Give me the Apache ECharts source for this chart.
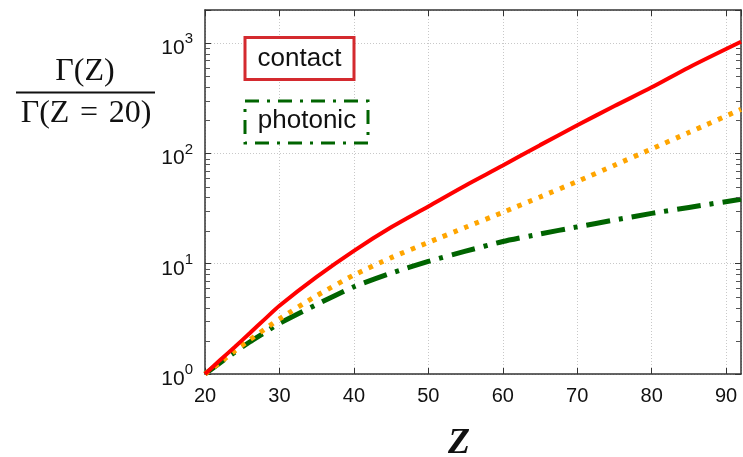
<!DOCTYPE html>
<html>
<head>
<meta charset="utf-8">
<style>html,body{margin:0;padding:0;background:#fff;}#c{width:743px;height:457px;}</style>
<script src="https://cdn.jsdelivr.net/npm/echarts@6/dist/echarts.min.js"></script>
</head>
<body>
<div id="c"></div>
<script>
const zValues = [20, 22, 24, 26, 28, 30, 35, 40, 45, 50, 55, 60, 65, 70, 75, 80, 85, 92];
const contact = [1, 1.33, 1.76, 2.34, 3.13, 4.16, 7.6, 13.1, 21.4, 33.1, 51.3, 77.6, 119, 180, 269, 398, 603, 1030];
const photonic = [1, 1.26, 1.58, 1.95, 2.37, 2.88, 4.27, 6.18, 8.22, 10.5, 13.0, 15.9, 18.6, 21.6, 24.9, 28.6, 32.4, 38.4];
const dotted = [1, 1.27, 1.62, 2.04, 2.54, 3.16, 5.13, 7.9, 11.35, 15.6, 21.4, 29.2, 40.3, 55.7, 78.2, 110, 155, 251];
const xTickLabels = ['20', '30', '40', '50', '60', '70', '80', '90'];
const yTickExponents = ['0', '1', '2', '3'];
const minorTickValues = [2,3,4,5,6,7,8,9,20,30,40,50,60,70,80,90,200,300,400,500,600,700,800,900];
const legendNames = ['contact', 'photonic'];
const xMin = 20, xMax = 92, yMin = 1, yMax = 2000;

const pair = (arr) => zValues.map((z, i) => [z, arr[i]]);
const chart = echarts.init(document.getElementById('c'), null, {renderer: 'canvas'});
const frame = '#333';
const grid = '#c8c8c8';

chart.setOption({
  animation: false,
  backgroundColor: '#fff',
  grid: {left: 205, right: 2, top: 10, bottom: 83, containLabel: false},
  xAxis: [{
    type: 'value', min: xMin, max: xMax, interval: 10,
    axisLine: {show: true, onZero: false, lineStyle: {color: frame, width: 1.5}},
    axisTick: {show: true, inside: true, length: 6, lineStyle: {color: frame}},
    axisLabel: {
      show: true, margin: 12, color: '#111', fontSize: 20, fontFamily: 'Liberation Sans, Arial, sans-serif',
      showMaxLabel: false,
      formatter: (v) => xTickLabels.indexOf(String(v)) >= 0 ? String(v) : ''
    },
    splitLine: {show: true, lineStyle: {color: grid, type: [1, 2], width: 1}}
  }, {
    type: 'value', position: 'top', min: xMin, max: xMax, interval: 10,
    axisLine: {show: true, onZero: false, lineStyle: {color: frame, width: 1.5}},
    axisTick: {show: true, inside: true, length: 6, lineStyle: {color: frame}},
    axisLabel: {show: false}, splitLine: {show: false}
  }],
  yAxis: [{
    type: 'log', logBase: 10, min: yMin, max: yMax,
    axisLine: {show: true, onZero: false, lineStyle: {color: frame, width: 1.5}},
    axisTick: {show: true, inside: true, length: 6, lineStyle: {color: frame}},
    axisLabel: {
      show: true, margin: 12, color: '#111', fontFamily: 'Liberation Sans, Arial, sans-serif',
      formatter: (v) => {
        const e = Math.round(Math.log10(v));
        if (Math.abs(Math.pow(10, e) - v) > 1e-6 * v) return '';
        const s = String(e);
        if (yTickExponents.indexOf(s) < 0) return '';
        return '{b|10}{s|' + s + '}';
      },
      rich: {
        b: {fontSize: 21, fontFamily: 'Liberation Sans, Arial, sans-serif', color: '#111', verticalAlign: 'bottom', padding: [0, 0, -4, 0]},
        s: {fontSize: 15, fontFamily: 'Liberation Sans, Arial, sans-serif', color: '#111', verticalAlign: 'top', padding: [0, 0, 8, 0]}
      }
    },
    splitLine: {show: true, lineStyle: {color: grid, type: [1, 2], width: 1}}
  }, {
    type: 'log', logBase: 10, min: yMin, max: yMax, position: 'right',
    axisLine: {show: true, onZero: false, lineStyle: {color: frame, width: 1.5}},
    axisTick: {show: true, inside: true, length: 6, lineStyle: {color: frame}},
    axisLabel: {show: false}, splitLine: {show: false}
  }],
  series: [
    {
      type: 'custom', name: 'minorTicks', coordinateSystem: 'cartesian2d', xAxisIndex: 0, yAxisIndex: 0,
      silent: true, clip: false, z: 6,
      encode: {x: 0, y: 1},
      data: minorTickValues.map(v => [xMin, v]),
      renderItem: (params, api) => {
        const v = api.value(1);
        const pL = api.coord([xMin, v]);
        const pR = api.coord([xMax, v]);
        const y = Math.round(pL[1]) + 0.5;
        return {type: 'group', children: [
          {type: 'line', shape: {x1: pL[0], y1: y, x2: pL[0] + 5, y2: y}, style: {stroke: '#555', lineWidth: 1}},
          {type: 'line', shape: {x1: pR[0], y1: y, x2: pR[0] - 5, y2: y}, style: {stroke: '#555', lineWidth: 1}}
        ]};
      }
    },
    {
      type: 'line', name: legendNames[1], data: pair(photonic), showSymbol: false, smooth: 0.2,
      lineStyle: {color: '#006400', width: 5, type: [24, 9, 4, 9]}, z: 3
    },
    {
      type: 'line', name: 'dotted', data: pair(dotted), showSymbol: false, smooth: 0.2,
      lineStyle: {color: '#ffa500', width: 5, type: [4.5, 7]}, z: 4
    },
    {
      type: 'line', name: legendNames[0], data: pair(contact), showSymbol: false, smooth: 0.3,
      lineStyle: {color: '#ff0000', width: 4}, z: 4
    }
  ],
  graphic: [
    {type: 'rect', shape: {x: 245, y: 37.5, width: 109, height: 42}, style: {fill: '#fff', stroke: '#d42a2f', lineWidth: 3}, z: 10},
    {type: 'text', x: 299.5, y: 59, style: {text: legendNames[0], fill: '#111', font: '26px "Liberation Sans", Arial, sans-serif', textAlign: 'center', textVerticalAlign: 'middle'}, z: 11},
    {type: 'rect', shape: {x: 245, y: 101, width: 123, height: 42}, style: {fill: '#fff', stroke: '#006400', lineWidth: 3, lineDash: [14, 8, 3, 8]}, z: 10},
    {type: 'text', x: 307, y: 121, style: {text: legendNames[1], fill: '#111', font: '26px "Liberation Sans", Arial, sans-serif', textAlign: 'center', textVerticalAlign: 'middle'}, z: 11},
    {type: 'text', x: 85, y: 72, style: {text: 'Γ(Z)', fill: '#111', font: '32px "Liberation Serif", "DejaVu Serif", serif', textAlign: 'center', textVerticalAlign: 'middle'}},
    {type: 'line', shape: {x1: 16, y1: 92.5, x2: 155, y2: 92.5}, style: {stroke: '#111', lineWidth: 2}},
    {type: 'text', x: 86, y: 114, style: {text: 'Γ(Z\u2004=\u200420)', fill: '#111', font: '32px "Liberation Serif", "DejaVu Serif", serif', textAlign: 'center', textVerticalAlign: 'middle'}},
    {type: 'text', x: 459, y: 444, style: {text: 'Z', fill: '#111', font: 'italic bold 36px "Liberation Serif", "DejaVu Serif", serif', textAlign: 'center', textVerticalAlign: 'middle'}}
  ]
});
</script>
</body>
</html>
